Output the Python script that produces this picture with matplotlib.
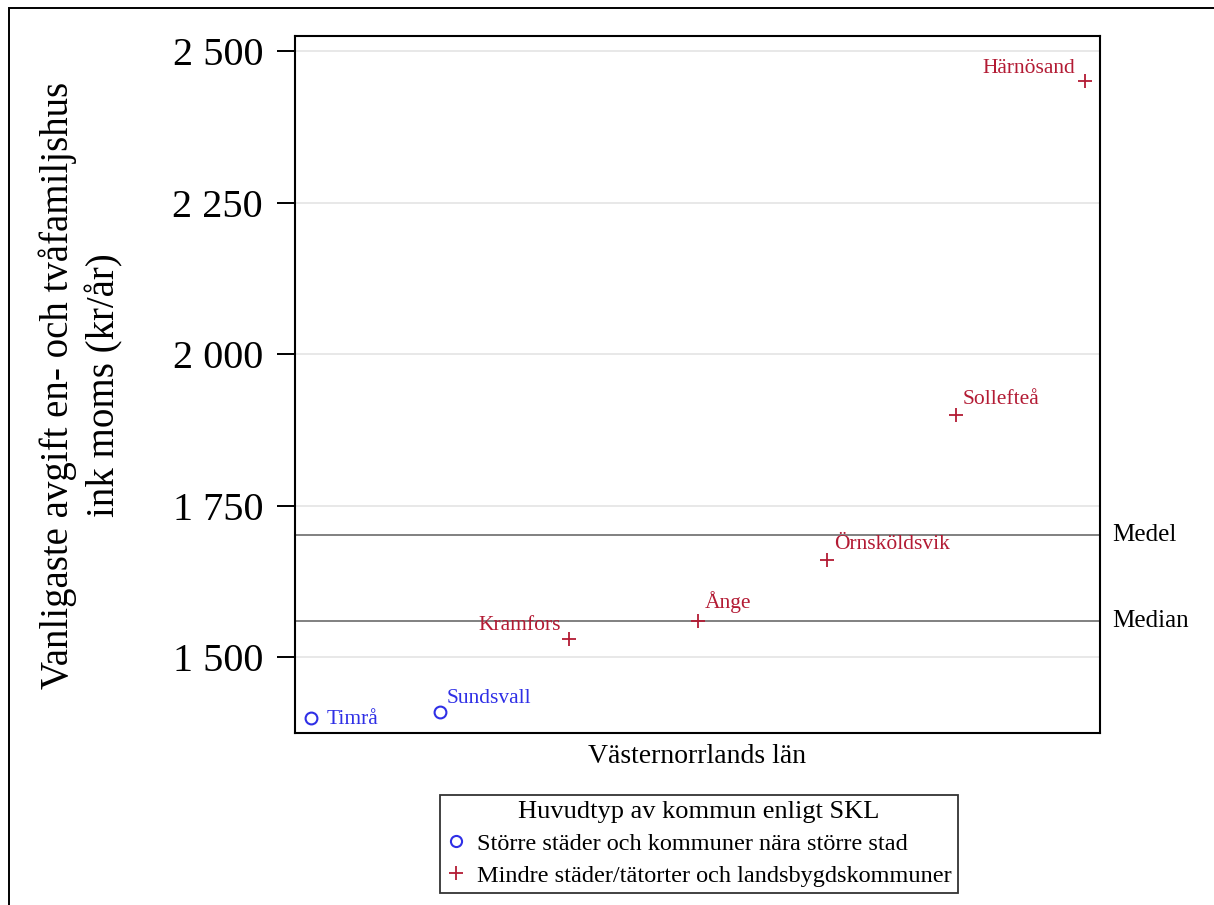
import matplotlib
matplotlib.use("Agg")
import matplotlib.pyplot as plt
from matplotlib.lines import Line2D
from matplotlib.patches import Rectangle
from matplotlib.transforms import blended_transform_factory

plt.rcParams["font.family"] = ["Liberation Serif", "DejaVu Serif"]

# municipalities, sorted by fee (kr/år)
KOMMUN = ["Timrå", "Sundsvall", "Kramfors", "Ånge", "Örnsköldsvik", "Sollefteå", "Härnösand"]
AVGIFT = [1400, 1410, 1530, 1560, 1660, 1900, 2450]
TYP = ["stor", "stor", "mindre", "mindre", "mindre", "mindre", "mindre"]
MEDEL = 1701.4
MEDIAN = 1560
YTICKS = [1500, 1750, 2000, 2250, 2500]
YTICKLABELS = ["1 500", "1 750", "2 000", "2 250", "2 500"]

BLUE = "#2f2fe6"
RED = "#b31b34"
# label placement: (ha, va, dx, dy) in points
LABPOS = {
    "Timrå":        ("left",  "center",   11, -1.5),
    "Sundsvall":    ("left",  "baseline",  5, 6.5),
    "Kramfors":     ("right", "baseline", -6, 6),
    "Ånge":         ("left",  "baseline",  5, 9),
    "Örnsköldsvik": ("left",  "baseline",  5, 8),
    "Sollefteå":    ("left",  "baseline",  5, 8),
    "Härnösand":    ("right", "baseline", -7, 6),
}

fig = plt.figure(figsize=(12.14, 9.05), dpi=100)
ax = fig.add_axes([295 / 1214, 1 - 733 / 905, 805 / 1214, 697 / 905])

x = list(range(1, len(KOMMUN) + 1))
for xi, k, v, t in zip(x, KOMMUN, AVGIFT, TYP):
    col = BLUE if t == "stor" else RED
    if t == "stor":
        ax.plot(xi, v, "o", ms=8.5, mfc="none", mec=col, mew=1.5, zorder=4)
    else:
        ax.plot(xi, v, "+", ms=10, mec=col, mew=1.3, zorder=4)
    ha, va, dx, dy = LABPOS[k]
    ax.annotate(k, (xi, v), xytext=(dx, dy), textcoords="offset points",
                ha=ha, va=va, fontsize=15.5, color=col, zorder=5)

ax.axhline(MEDEL, color="#808080", lw=1.4, zorder=2)
ax.axhline(MEDIAN, color="#808080", lw=1.4, zorder=2)
tr = blended_transform_factory(ax.transAxes, ax.transData)
ax.text(1.015, MEDEL, "Medel", transform=tr, ha="left", va="center", fontsize=18)
ax.text(1.015, MEDIAN, "Median", transform=tr, ha="left", va="center", fontsize=18)

ax.set_xlim(0.876, 7.116)
ax.set_ylim(1374.6, 2524.8)
ax.set_xticks([])
ax.set_yticks(YTICKS)
ax.set_yticklabels(YTICKLABELS, fontsize=29)
ax.tick_params(axis="y", length=13, width=1.4, pad=10)
ax.grid(axis="y", color="#e8e8e8", lw=1.4)
ax.set_axisbelow(True)
for s in ax.spines.values():
    s.set_linewidth(1.5)

ax.set_xlabel("Västernorrlands län", fontsize=20, labelpad=8)
fig.text(81 / 1214, 1 - 385 / 905,
         "Vanligaste avgift en- och tvåfamiljshus\nink moms (kr/år)",
         rotation=90, ha="center", va="center", fontsize=28, linespacing=1.3,
         multialignment="center")

handles = [
    Line2D([], [], ls="none", marker="o", ms=8, mfc="none", mec=BLUE, mew=1.5),
    Line2D([], [], ls="none", marker="+", ms=10, mec=RED, mew=1.3),
]
leg = fig.legend(handles,
                 ["Större städer och kommuner nära större stad",
                  "Mindre städer/tätorter och landsbygdskommuner"],
                 title="Huvudtyp av kommun enligt SKL",
                 loc="upper center", bbox_to_anchor=(699 / 1214, 1 - 795 / 905),
                 fontsize=17.5, title_fontsize=19, frameon=True, fancybox=False,
                 edgecolor="black", handlelength=0.8, handletextpad=0.45,
                 borderpad=0.25, labelspacing=0.4, borderaxespad=0)
leg.get_frame().set_linewidth(1.3)

# outer frame of the graph region
fig.patches.append(Rectangle((9 / 1214, -0.05), 1.1, 1 - 8 / 905 + 0.05,
                             transform=fig.transFigure, fill=False,
                             edgecolor="black", lw=1.4))

fig.savefig("out.png", dpi=100)
